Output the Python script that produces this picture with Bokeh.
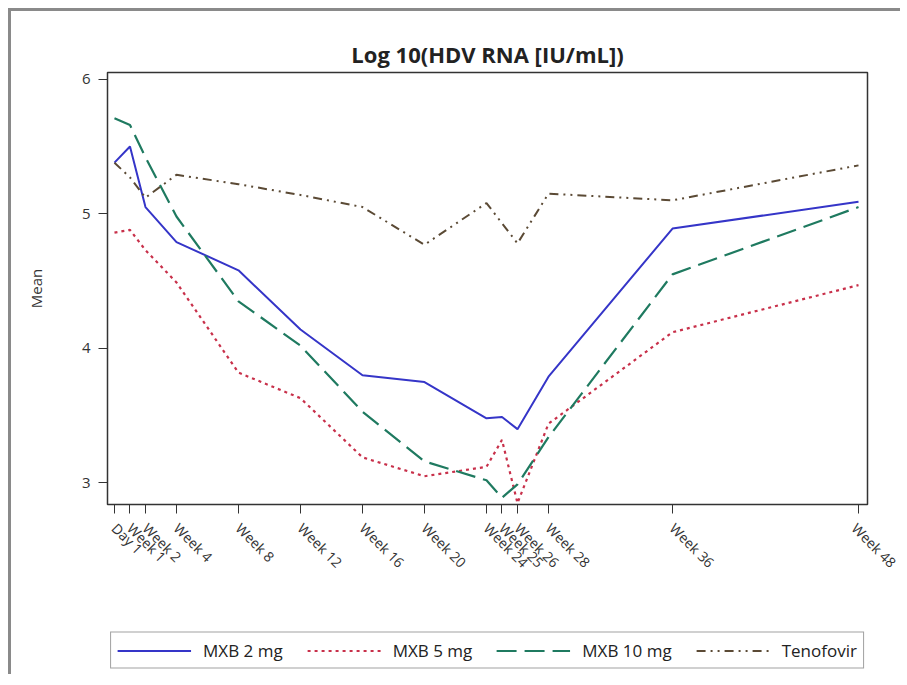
import math
from bokeh.plotting import figure
from bokeh.layouts import column
from bokeh.models import FixedTicker, Legend, LegendItem, Range1d
from bokeh.embed import file_html
from bokeh.resources import INLINE

weeks = [0, 1, 2, 4, 8, 12, 16, 20, 24, 25, 26, 28, 36, 48]
tick_labels = ["Day 1", "Week 1", "Week 2", "Week 4", "Week 8", "Week 12", "Week 16",
               "Week 20", "Week 24", "Week 25", "Week 26", "Week 28", "Week 36", "Week 48"]

mxb2 = [5.38, 5.50, 5.05, 4.79, 4.58, 4.14, 3.80, 3.75, 3.48, 3.49, 3.40, 3.79, 4.89, 5.09]
mxb5 = [4.86, 4.88, 4.73, 4.49, 3.82, 3.63, 3.19, 3.05, 3.12, 3.32, 2.85, 3.44, 4.12, 4.47]
mxb10 = [5.71, 5.66, 5.42, 4.98, 4.35, 4.02, 3.53, 3.16, 3.02, 2.89, 2.99, 3.34, 4.55, 5.05]
tenofovir = [5.38, 5.27, 5.12, 5.29, 5.22, 5.14, 5.05, 4.77, 5.08, 4.93, 4.78, 5.15, 5.10, 5.36]

series_names = ["MXB 2 mg", "MXB 5 mg", "MXB 10 mg", "Tenofovir"]
y_ticks = [3, 4, 5, 6]

FONT = "Open Sans"
styles = [
    dict(line_color="#3535c8", line_width=2),
    dict(line_color="#c8304a", line_width=2.2, line_dash="3 4"),
    dict(line_color="#1f7a60", line_width=2.2, line_dash="20 8"),
    dict(line_color="#5b4a35", line_width=2, line_dash="9 5 2 5 2 5"),
]
all_series = [mxb2, mxb5, mxb10, tenofovir]

p = figure(width=889, height=593, output_backend="svg", toolbar_location=None,
           x_range=Range1d(-0.45, 48.58), y_range=Range1d(2.84, 6.05),
           min_border_left=96, min_border_right=33, min_border_top=61, min_border_bottom=100)

p.title.text = "Log 10(HDV RNA [IU/mL])"
p.title.align = "center"
p.title.text_font = FONT
p.title.text_font_size = "22px"
p.title.text_font_style = "bold"
p.title.text_color = "#222222"
p.title.standoff = 8

p.grid.visible = False
p.outline_line_color = "#333333"
p.outline_line_width = 1.5
p.background_fill_color = "white"
p.border_fill_color = "white"

p.xaxis.ticker = FixedTicker(ticks=weeks)
p.xaxis.major_label_overrides = {w: lab for w, lab in zip(weeks, tick_labels)}
p.xaxis.major_label_orientation = -math.pi / 4
p.xaxis.minor_tick_line_color = None
p.yaxis.minor_tick_line_color = None
p.yaxis.ticker = FixedTicker(ticks=y_ticks)
p.yaxis.axis_label = "Mean"
for ax in (p.xaxis[0], p.yaxis[0]):
    ax.axis_line_color = "#333333"
    ax.major_tick_line_color = "#333333"
    ax.major_tick_out = 9
    ax.major_tick_in = 0
    ax.major_label_text_font = FONT
    ax.major_label_text_color = "#333333"
    ax.axis_label_text_font = FONT
    ax.axis_label_text_font_size = "15px"
    ax.axis_label_text_font_style = "normal"
    ax.axis_label_text_color = "#333333"
p.xaxis.major_label_text_font_size = "14px"
p.xaxis.major_label_standoff = 12
p.yaxis.major_label_text_font_size = "15px"
p.yaxis.major_label_standoff = 8
p.yaxis.axis_label_standoff = 33

for ys, st in zip(all_series, styles):
    p.line(weeks, ys, **st)

# legend strip below the chart (its own lines sit outside its visible range)
p2 = figure(width=889, height=70, output_backend="svg", toolbar_location=None,
            x_axis_type=None, y_axis_type=None,
            min_border_left=65, min_border_right=0, min_border_top=22, min_border_bottom=0,
            x_range=Range1d(100, 101), y_range=Range1d(100, 101))
p2.grid.visible = False
p2.outline_line_color = None
p2.border_fill_color = "white"
p2.background_fill_color = "white"
legend_renderers = [p2.line(weeks, ys, **st) for ys, st in zip(all_series, styles)]

legend = Legend(items=[LegendItem(label=n, renderers=[r]) for n, r in
                       zip(series_names, legend_renderers)],
                orientation="horizontal", location="center",
                glyph_width=74, glyph_height=12, label_standoff=12, spacing=24,
                padding=6, margin=0,
                label_text_font=FONT, label_text_font_size="17px", label_text_color="#222222",
                border_line_color="#444444", border_line_width=1.5)
p2.add_layout(legend, "center")

layout = column(p, p2, spacing=0,
                styles={"margin-left": "8px", "margin-top": "8px",
                        "border-left": "3px solid #8a8a8a", "border-top": "3px solid #8a8a8a"})
open("out.html", "w").write(file_html(layout, INLINE))
